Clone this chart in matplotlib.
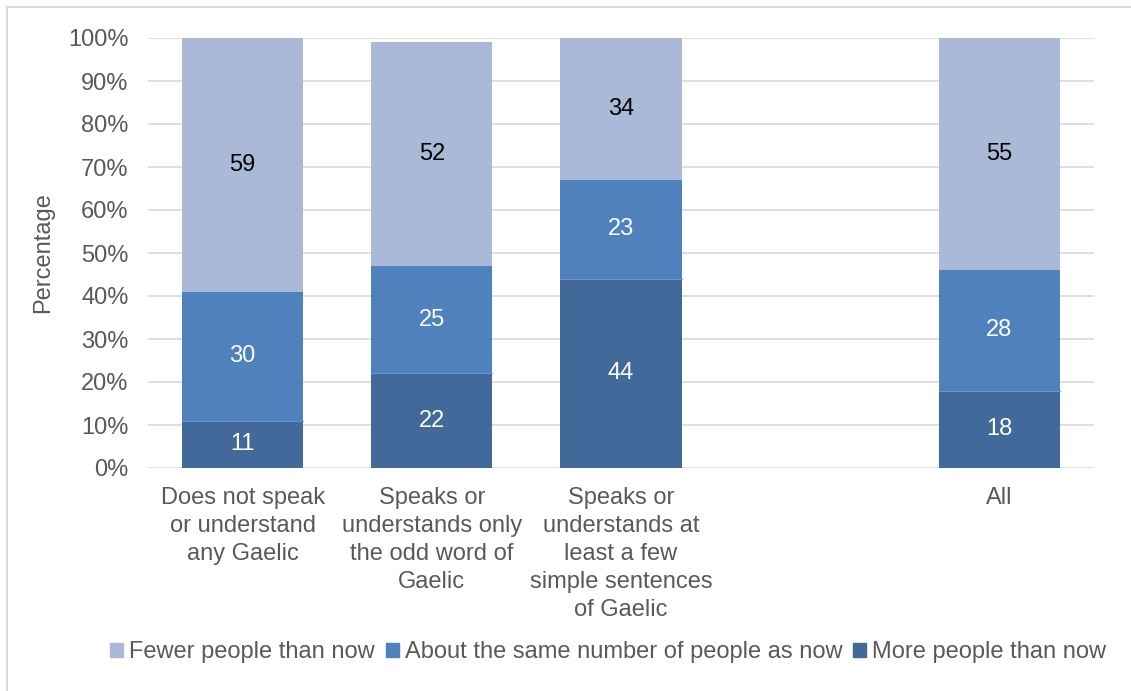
import matplotlib
matplotlib.use("Agg")
import matplotlib.pyplot as plt
from matplotlib.patches import Rectangle, Patch

plt.rcParams['font.family'] = ['Liberation Sans', 'DejaVu Sans']

categories = ["Does not speak\nor understand\nany Gaelic",
              "Speaks or\nunderstands only\nthe odd word of\nGaelic",
              "Speaks or\nunderstands at\nleast a few\nsimple sentences\nof Gaelic",
              "",
              "All"]
more_people = [11, 22, 44, None, 18]
same_number = [30, 25, 23, None, 28]
fewer_people = [59, 52, 34, None, 55]
series_names = ["Fewer people than now", "About the same number of people as now", "More people than now"]
yticks = [0, 10, 20, 30, 40, 50, 60, 70, 80, 90, 100]

c_more = "#41699A"
c_same = "#4F81BD"
c_fewer = "#AAB9D7"

W, H = 1131, 691
fig = plt.figure(figsize=(W/100, H/100), dpi=100)
ax = fig.add_axes([148/W, 1 - 468/H, (1094-148)/W, (468-38)/H])

x = list(range(len(categories)))
bw = 0.64
fs = 17
for i in x:
    if more_people[i] is None:
        continue
    b0 = 0
    for val, col, tc in [(more_people[i], c_more, "white"),
                         (same_number[i], c_same, "white"),
                         (fewer_people[i], c_fewer, "black")]:
        ax.bar(i, val, bottom=b0, width=bw, color=col, edgecolor="none", zorder=2)
        top = min(b0 + val, 100)
        ax.text(i, (b0 + top) / 2, str(val), ha="center", va="center",
                color=tc, fontsize=fs, zorder=3)
        b0 += val
    ax.plot([i - bw/2, i + bw/2], [more_people[i]]*2, color="#6F93C4", lw=0.8, zorder=2.5)

ax.set_xlim(-0.5, len(categories) - 0.5)
ax.set_ylim(0, 100)
ax.set_yticks(yticks)
ax.set_yticklabels([f"{t}%" for t in yticks], color="#595959", fontsize=fs)
ax.set_xticks(x)
ax.set_xticklabels(categories, color="#595959", fontsize=fs, linespacing=1.345, va="top")
ax.tick_params(axis="both", length=0)
ax.tick_params(axis="y", pad=14)
ax.tick_params(axis="x", pad=14)
ax.grid(axis="y", color="#D9D9D9", lw=1.2, zorder=0)
ax.set_axisbelow(True)
for s in ax.spines.values():
    s.set_visible(False)
ax.set_ylabel("Percentage", color="#595959", fontsize=fs, labelpad=10)

handles = [Patch(color=c_fewer), Patch(color=c_same), Patch(color=c_more)]
fig.legend(handles, series_names, loc="center", bbox_to_anchor=(608/W, 1 - 652/H),
           ncol=3, frameon=False, fontsize=fs, labelcolor="#595959",
           handlelength=0.55, handleheight=0.55, handletextpad=0.25, columnspacing=0.45)

fig.patches.append(Rectangle((7/W, -0.1), 1.2, 1 - 7/H + 0.1, transform=fig.transFigure,
                             fill=False, edgecolor="#D9D9D9", lw=1.5))

fig.savefig("out.png", dpi=100)
